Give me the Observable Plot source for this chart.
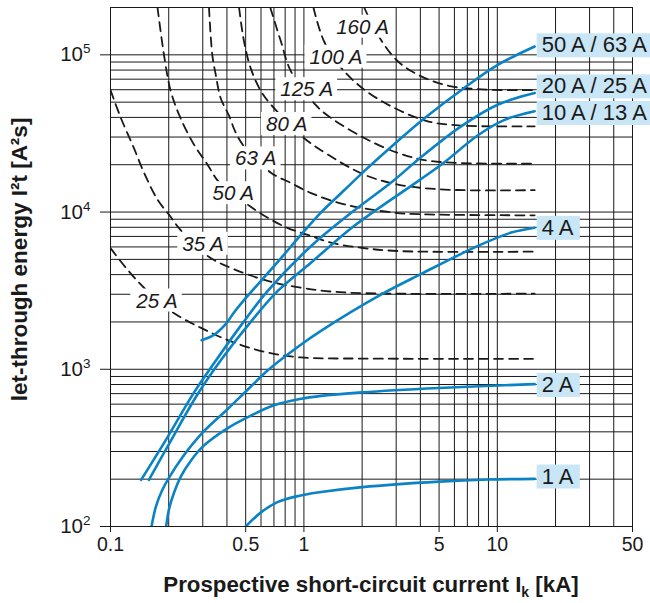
<!DOCTYPE html>
<html>
<head>
<meta charset="utf-8">
<script src="https://cdn.jsdelivr.net/npm/d3@7"></script>
<script src="https://cdn.jsdelivr.net/npm/@observablehq/plot@0.6"></script>
<style>
  html, body { margin: 0; padding: 0; background: #ffffff; }
  #chart svg { display: block; }
</style>
</head>
<body>
<div id="chart"></div>
<script>
// ---------- axis / grid values ----------
const xGrid = [0.1,0.2,0.3,0.4,0.5,0.6,0.7,0.8,0.9,1,2,3,4,5,6,7,8,9,10,20,30,40,50];
const yGrid = [100,200,300,400,500,600,700,800,900,
               1000,2000,3000,4000,5000,6000,7000,8000,9000,
               10000,20000,30000,40000,50000,60000,70000,80000,90000,
               100000,200000];
const xTickValues = [0.1, 0.5, 1, 5, 10, 50];
const xTickLabels = ["0.1", "0.5", "1", "5", "10", "50"];
const yTickValues = [100, 1000, 10000, 100000];

// ---------- fuse curves (dashed) : [kA, A²s] ----------
const fuse25  = [[0.1,5900],[0.12,4430],[0.149,3300],[0.205,2350],[0.292,1840],[0.435,1480],[0.65,1278],[0.965,1189],[2,1170],[15.6,1165]];
const fuse35  = [[0.1,59600],[0.113,39800],[0.132,25600],[0.15,17500],[0.175,12000],[0.205,9300],[0.23,7700],[0.317,5260],[0.435,4330],[0.65,3650],[0.965,3300],[1.62,3080],[15.6,3030]];
const fuse50  = [[0.175,200000],[0.189,100000],[0.205,58600],[0.23,39700],[0.27,26900],[0.317,20100],[0.364,15500],[0.51,11200],[0.65,9200],[0.82,7940],[1.09,7050],[1.38,6380],[1.97,5930],[3.06,5650],[15.6,5600]];
const fuse63  = [[0.323,200000],[0.336,100000],[0.35,74800],[0.371,53200],[0.41,41000],[0.444,32000],[0.49,26200],[0.675,17800],[0.857,15300],[1.09,13200],[1.62,11200],[2.94,9900],[4.37,9660],[15.6,9530]];
const fuse80  = [[0.462,200000],[0.49,122000],[0.53,82600],[0.6,58600],[0.675,48300],[1.0,29600],[1.33,23200],[2.05,17300],[3.06,14960],[5.33,13900],[15.6,13780]];
const fuse125 = [[0.67,200000],[0.76,122000],[0.857,78500],[1.15,48000],[1.38,39700],[2.05,29600],[3.06,23800],[4.55,21100],[15.6,20300]];
const fuse100 = [[1.12,200000],[1.27,122000],[1.56,82600],[2.05,60100],[2.94,45900],[4.37,37800],[6.5,35500],[15.6,35100]];
const fuse160 = [[2.05,200000],[2.41,134000],[3.06,91000],[4.04,73000],[5.78,63100],[8.95,60100],[15.6,59600]];

const fuseLabelNames = ["160 A","100 A","125 A","80 A","63 A","50 A","35 A","25 A"];
const fuseLabelX     = [2.01, 1.465, 1.034, 0.815, 0.564, 0.431, 0.301, 0.174];
const fuseLabelY     = [150000, 96600, 60100, 36100, 21800, 13100, 6240, 2720];

// ---------- circuit-breaker curves (blue) ----------
const mcb5063 = [[0.296,1530],[0.343,1655],[0.394,1936],[0.435,2296],[0.49,2750],[0.6,3650],[0.76,5080],[0.965,7150],[1.22,9880],[1.62,13800],[2.05,18200],[3.06,28300],[4.2,39500],[6.77,61800],[10.1,86500],[15.6,113000]];
const mcb2025 = [[0.144,198],[0.197,369],[0.27,710],[0.35,1132],[0.477,1930],[0.65,3150],[1.09,6080],[1.75,9860],[2.88,15700],[4.04,22400],[6.5,35100],[10.1,48300],[15.6,57100]];
const mcb1013 = [[0.158,198],[0.205,351],[0.281,689],[0.38,1183],[0.531,2003],[0.733,3150],[1.087,4760],[1.816,8150],[3.96,15960],[5.33,20750],[7.94,30800],[10.9,38600],[15.6,43800]];
const mcb4    = [[0.163,100],[0.172,135],[0.185,170],[0.2,203],[0.235,275],[0.3,397],[0.4,553],[0.51,738],[0.66,1000],[1,1480],[1.22,1750],[2.5,2980],[4.04,4040],[7.94,6090],[11.8,7400],[15.6,7950]];
const mcb2    = [[0.194,100],[0.201,130],[0.213,164],[0.232,210],[0.262,265],[0.3,322],[0.4,419],[0.51,494],[0.7,590],[0.97,650],[1.2,675],[2,713],[5,760],[15.6,805]];
const mcb1    = [[0.5,100],[0.6,123],[0.73,143],[0.95,157],[1.2,165],[2,178],[5,193],[9,199],[15.6,201]];

const mcbLabelNames = ["50 A / 63 A","20 A / 25 A","10 A / 13 A","4 A","2 A","1 A"];
const mcbLabelX     = [15.6, 15.6, 15.6, 15.6, 15.6, 15.6];
const mcbLabelY     = [115000, 63000, 42700, 7940, 795, 208];

// ---------- build tables ----------
const fuseSeries = [["25 A",fuse25],["35 A",fuse35],["50 A",fuse50],["63 A",fuse63],["80 A",fuse80],["125 A",fuse125],["100 A",fuse100],["160 A",fuse160]];
const mcbSeries  = [["50/63",mcb5063],["20/25",mcb2025],["10/13",mcb1013],["4",mcb4],["2",mcb2],["1",mcb1]];
const toRows = series => series.flatMap(([name, pts]) => pts.map(([x, y]) => ({name, x, y})));
const fuseRows = toRows(fuseSeries);
const mcbRows  = toRows(mcbSeries);
const fuseLabelRows = fuseLabelNames.map((t, i) => ({t, x: fuseLabelX[i], y: fuseLabelY[i]}));
const mcbLabelRows  = mcbLabelNames.map((t, i) => ({t, x: mcbLabelX[i], y: mcbLabelY[i]}));
const xTickRows = xTickValues.map((x, i) => ({x, t: xTickLabels[i]}));

const BLUE = "#0a83c6";
const INK = "#1a1a1a";

const svg = Plot.plot({
  width: 650,
  height: 603,
  marginLeft: 110,
  marginRight: 18,
  marginTop: 7,
  marginBottom: 77,
  x: {type: "log", domain: [0.1, 50]},
  y: {type: "log", domain: [100, 200000]},
  style: {fontFamily: "'Liberation Sans', Arial, Helvetica, sans-serif", fontSize: "19.5px", color: INK, background: "#ffffff"},
  marks: [
    Plot.ruleX(xGrid, {stroke: INK, strokeWidth: 1}),
    Plot.ruleY(yGrid, {stroke: INK, strokeWidth: 1}),
    Plot.axisX(xTickValues, {tickSize: 6, tickFormat: () => "", label: null}),
    Plot.text(xTickRows, {x: "x", text: "t", frameAnchor: "bottom", dy: 24, fontSize: 19.5, fill: INK}),
    Plot.axisY({ticks: yTickValues, tickFormat: d => String(Math.round(Math.log10(d))), tickSize: 10, tickPadding: 10, label: null, fontSize: 20.5}),
    Plot.line(fuseRows, {x: "x", y: "y", z: "name", curve: "catmull-rom", stroke: INK, strokeWidth: 1.8, strokeDasharray: "9,6", clip: true}),
    Plot.line(mcbRows, {x: "x", y: "y", z: "name", curve: "catmull-rom", stroke: BLUE, strokeWidth: 2.6, clip: true}),
    Plot.text(fuseLabelRows, {x: "x", y: "y", text: "t", fontStyle: "italic", fontSize: 20.5,
      fontFamily: "'Liberation Sans Narrow', 'Liberation Sans', Arial, sans-serif", fill: INK, ariaDescription: "fuse-labels"}),
    Plot.text(mcbLabelRows, {x: "x", y: "y", text: "t", textAnchor: "start", dx: 7, fontSize: 22, fill: INK, ariaDescription: "mcb-labels"})
  ]
});
document.getElementById("chart").append(svg);

const NS = "http://www.w3.org/2000/svg";
function addBoxes(desc, fill, padL, padR, padT, padB) {
  svg.querySelectorAll(`g[aria-description="${desc}"] text`).forEach(t => {
    const b = t.getBBox();
    const r = document.createElementNS(NS, "rect");
    r.setAttribute("x", b.x - padL);
    r.setAttribute("y", b.y - padT);
    r.setAttribute("width", b.width + padL + padR);
    r.setAttribute("height", b.height + padT + padB);
    r.setAttribute("fill", fill);
    const tr = t.getAttribute("transform");
    if (tr) r.setAttribute("transform", tr);
    t.parentNode.insertBefore(r, t);
  });
}
addBoxes("fuse-labels", "#ffffff", 5, 4, 0, 0);
addBoxes("mcb-labels", "#c8e6f6", 5, 6, -1, 0);

// y tick labels as powers of ten
svg.querySelectorAll('g[aria-label="y-axis tick label"] text').forEach(t => {
  const e = t.textContent;
  t.textContent = "10";
  const sup = document.createElementNS(NS, "tspan");
  sup.setAttribute("dy", "-8");
  sup.setAttribute("font-size", "13.5");
  sup.textContent = e;
  t.appendChild(sup);
});

// axis titles
const xr = svg.scale("x").range;
const yr = svg.scale("y").range;
const s = d3.select(svg);
const xt = s.append("text")
  .attr("x", (xr[0] + xr[1]) / 2)
  .attr("y", 592)
  .attr("text-anchor", "middle")
  .attr("font-weight", "bold")
  .attr("font-size", 22.3)
  .attr("fill", INK);
xt.append("tspan").text("Prospective short-circuit current I");
xt.append("tspan").attr("font-size", 14).attr("dy", 5).text("k");
xt.append("tspan").attr("dy", -5).text(" [kA]");

s.append("text")
  .attr("transform", `translate(27,${(yr[0] + yr[1]) / 2 - 7}) rotate(-90)`)
  .attr("text-anchor", "middle")
  .attr("font-weight", "bold")
  .attr("font-size", 22.5)
  .attr("fill", INK)
  .text("let-through energy I²t [A²s]");
</script>
</body>
</html>
